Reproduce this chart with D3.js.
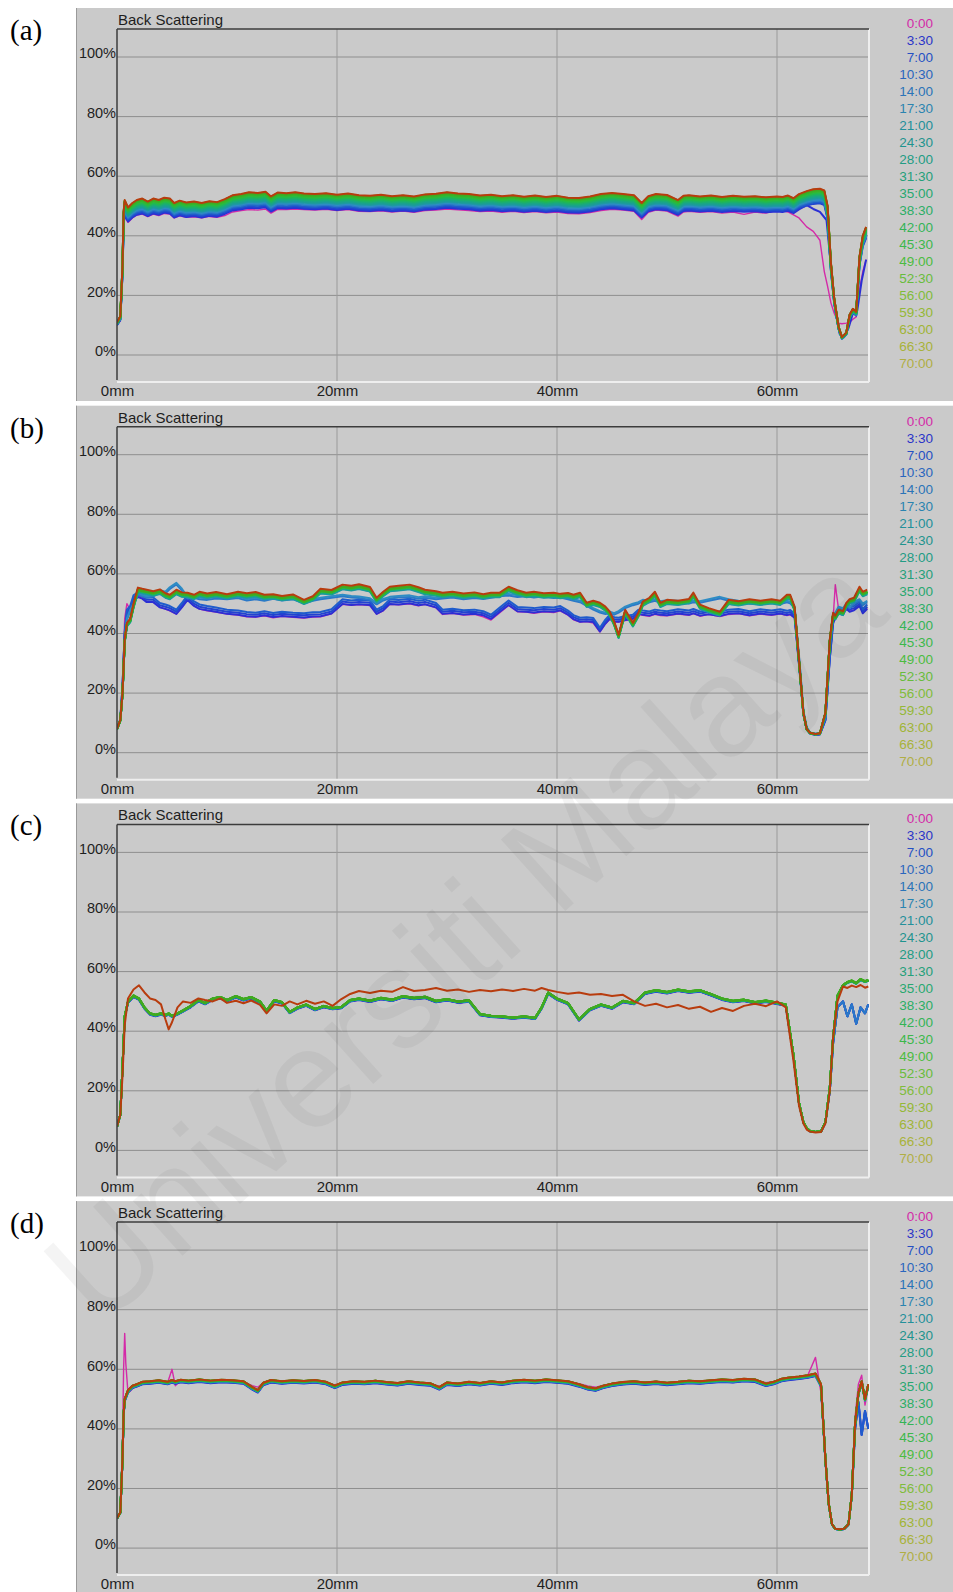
<!DOCTYPE html>
<html>
<head>
<meta charset="utf-8">
<script src="https://cdn.jsdelivr.net/npm/d3@7"></script>
<style>
  html, body { margin: 0; padding: 0; background: #ffffff; }
  svg { display: block; }
</style>
</head>
<body>
<svg id="chart" width="953" height="1592"></svg>
<script>
// ---- legend / series names -------------------------------------------
const times = ["0:00","3:30","7:00","10:30","14:00","17:30","21:00","24:30","28:00","31:30",
  "35:00","38:30","42:00","45:30","49:00","52:30","56:00","59:30","63:00","66:30","70:00"];
const legendColors = ["#d42aa8","#2b35c8","#2550c4","#2a66be","#2a74b8","#2a84b0","#23909a","#1f948e",
  "#229c84","#25a07a","#28a870","#2cae66","#34b456","#3cb84a","#4cbc40","#68bc3c","#80bc3a","#94b836",
  "#a0b436","#a8b23a","#b0ae44"];
const lineColors = ["#d42aa8","#2b2fd4","#2243d0","#1f5ccc","#2a78c8","#2e8cc4","#1f98a8","#1c9c98",
  "#1aa48a","#1aaa7c","#1cb06c","#1fb45e","#22b850","#26bc44","#2cbc3a","#32b832","#36b42c","#3ab028",
  "#3eac24","#42a820","#b83c0e"];
const panelLabels = ["(a)","(b)","(c)","(d)"];
const yTicks = [0, 20, 40, 60, 80, 100];
const xTicks = [0, 20, 40, 60];

// ---- panel (a): backscattering profiles (% vs height, mm) ----------------
const aX = [
  0, 0.3, 0.5, 0.6, 0.7, 1.0, 1.4, 1.8, 2.3, 2.8,
  3.3, 3.8, 4.3, 4.8, 5.2, 5.7, 6.3, 7, 7.7, 8.4,
  9.1, 9.8, 10.5, 11.3, 12, 12.8, 13.5, 14, 14.6, 15.4,
  16.2, 17, 18, 19, 20, 21, 22, 23, 24, 25,
  26, 27, 28, 29, 30, 31, 32, 33, 34, 35,
  36, 37, 38, 39, 40, 41, 42, 43, 44, 45,
  46, 47, 47.7, 48.3, 49, 50, 51, 51.5, 52, 53,
  54, 55, 56, 57, 58, 59, 60, 60.5, 61, 61.5,
  62, 62.7, 63.3, 63.9, 64.3, 64.6, 64.9, 65.2, 65.6, 65.9,
  66.3, 66.6, 66.9, 67.2, 67.5, 67.8, 68.1];
const aTop = [
  11, 13, 30, 48, 52, 49.5, 51, 52, 52.5, 51.5,
  52.5, 52, 52.8, 52.5, 51, 51.8, 51.2, 51.5, 51, 51.6,
  51.3, 52.3, 53.6, 54, 54.6, 54.4, 54.8, 53.2, 54.5, 54.3,
  54.6, 54.2, 54, 54.3, 53.8, 54.2, 53.6, 53.4, 53.8, 53.3,
  53.6, 53.2, 53.9, 54.1, 54.6, 54.2, 54, 53.5, 53.8, 53.3,
  53.6, 53.1, 53.5, 53, 53.4, 52.8, 52.7, 53.2, 54, 54.4,
  54, 53.6, 51, 53.3, 54, 53.7, 52, 53.4, 53.6, 53.2,
  53.5, 53, 53.4, 53.1, 53.3, 52.9, 53.2, 53, 53.5, 52.6,
  54, 55, 55.6, 55.8, 55.2, 50, 31, 19, 9.5, 6,
  7.5, 13.5, 15.5, 14.5, 33, 40, 43];
const aFirst = [
  10, 11.5, 27, 43, 46.5, 44.5, 46, 47, 47.3, 46.4,
  47.3, 46.8, 47.5, 47.3, 46, 46.7, 46.2, 46.4, 46, 46.5,
  46.2, 46.8, 48, 48.5, 48.8, 48.6, 49, 47.6, 48.9, 48.8,
  49, 48.8, 48.6, 48.9, 48.5, 48.8, 48.2, 48.1, 48.4, 48,
  48.3, 47.9, 48.5, 48.6, 49, 48.7, 48.5, 48.1, 48.3, 47.9,
  48.2, 47.8, 48.1, 47.7, 48, 47.5, 47.4, 47.8, 48.5, 48.9,
  48.6, 48.2, 45.5, 47.9, 48.6, 48.3, 46.6, 48, 48.2, 47.9,
  48.1, 47.6, 48, 47.2, 48, 47.6, 48.7, 48.5, 48, 47,
  46, 43, 41.5, 38.5, 28, 23, 17.5, 14, 10.7, 10.5,
  10.7, 11, 12, 12.8, 21.8, 28, 32];
const aBlueTailX = [62.7, 63.3, 63.9, 64.5, 64.9, 65.3, 65.7, 66.1, 66.5, 66.9, 67.3, 67.7, 68.1];
const aBlueTail = [50.3, 49, 48, 45.3, 30, 15, 7, 6, 9, 14, 15, 25, 32];
const aUse = ["first","top","top","top","top","top","top","top","top","top","top",
  "top","top","top","top","top","top","top","top","top","top"];
const aTail = [null,"blue",null,null,null,null,null,null,null,null,null,
  null,null,null,null,null,null,null,null,null,null];
const aGain = [1, 0.905, 0.912, 0.92, 0.928, 0.935, 0.942, 0.948, 0.954, 0.96, 0.965,
  0.97, 0.974, 0.978, 0.982, 0.985, 0.988, 0.991, 0.994, 0.997, 1.0];

// ---- panel (b) ---------------------------------------------------------
const bX = [
  0, 0.3, 0.5, 0.7, 0.9, 1.2, 1.5, 1.9, 2.3, 2.7,
  3.3, 3.9, 4.4, 4.8, 5.4, 5.9, 6.4, 7, 7.5, 8.2,
  9, 10, 11, 11.8, 12.6, 13.4, 14.2, 15, 16, 17,
  17.8, 18.5, 19.5, 20.5, 21.3, 22, 23, 23.6, 24.2, 24.8,
  25.6, 26.6, 27.4, 28, 29, 29.6, 30.5, 31.5, 32.5, 33.3,
  34, 34.8, 35.6, 36.4, 37.2, 37.9, 38.8, 39.7, 40.3, 41,
  41.5, 42.1, 42.7, 43.3, 43.9, 44.4, 44.8, 45.2, 45.6, 46.2,
  46.9, 47.4, 47.8, 48.4, 48.9, 49.4, 50, 51, 52, 52.4,
  53, 53.8, 54.8, 55.6, 56.5, 57.5, 58.5, 59.5, 60.3, 60.9,
  61.2, 61.6, 62.1, 62.4, 62.7, 63, 63.5, 63.9, 64.4, 64.8,
  65.1, 65.3, 65.6, 66, 66.3, 66.6, 67, 67.5, 67.8, 68.2];
const bHigh = [
  8, 11, 20, 38, 43.6, 45, 50, 55.4, 55, 54.7,
  54.2, 54.8, 53.5, 53, 54.7, 53.8, 53.7, 53, 54, 53.4,
  53.9, 53.2, 54, 53.5, 53.9, 53, 53.2, 52.6, 53.1, 51.3,
  52.5, 55, 54.6, 56.4, 56, 56.5, 55.6, 52, 54, 55.7,
  56, 56.4, 55.5, 54.7, 54.2, 53.7, 54, 53.4, 53.8, 53.2,
  53.7, 53.7, 55.7, 54.5, 53.7, 54, 53.5, 53.7, 53.3, 53.6,
  53, 53.7, 50.3, 51, 50.3, 49, 47.3, 44, 39.6, 48,
  43.6, 47, 50.7, 52, 54, 50.3, 51.3, 51, 51.6, 53.7,
  49.7, 48.5, 47.3, 51.3, 50.8, 51.5, 51, 51.5, 51, 53,
  53, 49, 26.8, 13.4, 8, 6.7, 6.3, 6.5, 13.4, 38,
  47, 46, 48, 47.5, 50.3, 51.5, 52, 55.7, 54, 54.7];
const bMid = [
  8, 11, 20, 38, 45, 48, 50, 53.7, 53, 52.5,
  53, 54.5, 54, 55.5, 57, 55, 52.3, 52.5, 52, 51.8,
  52.3, 52, 52.4, 51.6, 52, 51.5, 52.2, 51.6, 52, 50.7,
  51.5, 52, 52.5, 53, 52.6, 52.4, 51.8, 50.3, 51.6, 52.3,
  52.6, 52.8, 52.2, 52.5, 52, 52.3, 52.6, 52, 52.4, 52.1,
  52.5, 53, 53.3, 52.8, 53, 52.6, 53, 52.4, 52.6, 52,
  51.5, 51, 49.8, 48.5, 47.5, 47, 47.3, 46.8, 47.5, 49,
  50, 50.5, 51.3, 51, 51.5, 50.8, 51.2, 51, 50.6, 51,
  50.8, 51.5, 52.3, 51.5, 51, 50.6, 50.2, 50.8, 50.4, 51,
  50.6, 49, 28, 14, 8.5, 6.8, 6.4, 6.6, 12, 36,
  46, 47, 49, 48.5, 50, 49, 50.5, 51.5, 50, 51];
const bLow = [
  8, 11, 22, 40, 47.3, 48.5, 52, 53, 52.5, 51.3,
  51.3, 49.5, 49, 48.5, 47.3, 49.5, 52, 50, 49, 48.5,
  48, 47.3, 47, 46.5, 46.3, 46.8, 46.2, 46.6, 46.3, 46.1,
  46.4, 46.5, 47.4, 50.7, 50.3, 50.6, 50.3, 47.3, 48.5, 50.7,
  50.5, 50.9, 50.2, 50.6, 49.5, 47.3, 47.6, 47.1, 47.3, 46.8,
  45.6, 48, 50.3, 48.2, 48, 47.8, 48.2, 48, 48.5, 47,
  45.5, 44.6, 44.8, 44.5, 41.3, 44, 45.6, 44.8, 44.6, 45.2,
  45.6, 47.3, 47, 46.7, 47.3, 47, 46.8, 47.4, 47, 47.5,
  46.7, 47.2, 46.6, 47.3, 47.5, 46.8, 47.4, 47, 47.4, 46.9,
  47.2, 46, 26, 13, 8, 6.5, 6, 6.2, 11, 32,
  44, 46, 47.5, 47, 49, 48, 48.5, 50, 47.5, 49];
const bFirst = [
  8, 11, 22, 45, 50, 48, 51, 52.5, 52, 50.8,
  50.5, 48.8, 48.2, 47.6, 46.5, 48.8, 51.3, 49.3, 48.2, 47.6,
  47.2, 46.5, 46.2, 45.6, 45.5, 45.9, 45.3, 45.8, 45.4, 45.2,
  45.5, 45.6, 46.6, 49.8, 49.5, 49.7, 49.4, 46.5, 47.6, 49.8,
  49.6, 50, 49.3, 49.8, 48.6, 46.4, 46.8, 46.2, 46.4, 45.6,
  44.5, 47, 49.4, 47.3, 47.2, 46.8, 47.3, 47, 47.6, 46.2,
  44.6, 43.8, 44, 43.5, 40.5, 43.2, 44.8, 43.7, 43.8, 44.3,
  44.8, 46.4, 46.1, 45.8, 46.4, 46, 45.9, 46.5, 46.1, 46.7,
  45.8, 46.4, 45.7, 46.4, 46.7, 45.9, 46.5, 46.1, 46.6, 46,
  46.3, 45.2, 25, 12.5, 8, 6.5, 6, 6.2, 11, 34,
  45, 56.4, 48, 46.5, 48.5, 47.5, 48, 49.5, 47, 48.5];
const bUse = ["first","low","low","low","mid","mid","high","high","high","high","high",
  "high","high","high","high","high","high","high","high","high","high"];
const bGain = [1, 0.985, 1.0, 1.015, 0.99, 1.0, 0.972, 0.975, 0.978, 0.98, 0.982,
  0.983, 0.984, 0.985, 0.986, 0.987, 0.988, 0.988, 0.989, 0.99, 1.0];

// ---- panel (c) ---------------------------------------------------------
const cX = [
  0, 0.3, 0.5, 0.7, 1.0, 1.5, 2.0, 2.5, 3.0, 3.5,
  4.0, 4.4, 4.7, 5.0, 5.5, 6, 6.7, 7.4, 8, 8.7,
  9.4, 10, 10.8, 11.5, 12.2, 13, 13.6, 14.3, 15, 15.7,
  16.4, 17.2, 18, 18.8, 19.6, 20.4, 21.2, 22, 23, 24,
  25, 26, 27, 28, 29, 30, 31, 32, 33, 34,
  35, 36, 37, 38, 38.6, 39.2, 40, 41, 42, 43,
  44, 45, 46, 47, 48, 49, 50, 51, 52, 53,
  54, 55, 56, 57, 58, 59, 60, 60.8, 61.5, 62,
  62.4, 62.7, 63, 63.5, 64, 64.4, 64.8, 65.1, 65.5, 66,
  66.4, 66.8, 67.2, 67.6, 68, 68.3];
const cRed = [
  8, 12, 25, 42, 51, 54, 55.4, 53, 51, 50.5,
  49, 44, 40.6, 43, 48, 50, 49.5, 51, 50.5, 50,
  51, 49.5, 50.2, 49.4, 50.3, 48.8, 46, 49, 48.5, 50,
  49, 50.2, 49.2, 50, 48.5, 50.8, 52.5, 53.5, 52.8, 53.6,
  53.2, 54.8, 53.5, 53.8, 54.5, 53.6, 54, 53.2, 53.8, 53.4,
  54, 53.5, 54.2, 53.6, 54.5, 53.8, 53.2, 52.6, 53, 52.2,
  52.5, 51.8, 52.2, 50, 48.5, 49.2, 48, 48.8, 47.5, 48.2,
  46.5, 47.8, 46.8, 48.5, 49.2, 48.4, 50, 48, 30, 15,
  9, 7, 6.3, 6, 6.2, 9, 20, 38, 50, 55,
  54.5, 55.3, 54.8, 55.5, 54.6, 55];
const cGreen = [
  8, 12, 28, 45, 50, 52, 51, 48, 46, 45.5,
  46, 45.5, 46, 45.2, 46, 47, 48.5, 50.5, 49.5, 51,
  51.5, 50.5, 51.8, 50.8, 51.5, 50, 47, 50.5, 49.8, 46.5,
  48, 49, 47.5, 48.5, 47.8, 48.2, 50.5, 51, 50.3, 51.2,
  50.6, 51.8, 51.2, 51.6, 50.2, 50.8, 50, 50.4, 45.8, 45.2,
  45, 44.6, 45, 44.5, 48, 53, 51, 49.5, 44, 47.5,
  49, 48, 50.2, 49.5, 53, 53.8, 53.2, 54, 53.4, 53.8,
  52.5, 51, 50.2, 50.6, 49.8, 50.3, 49.6, 49, 32, 16,
  9.5, 7.5, 6.5, 6.2, 6.4, 9.5, 21, 38, 52, 55.5,
  56.5, 57, 56.2, 57.5, 56.8, 57.2];
const cBlueTailX = [64.8, 65.1, 65.5, 66, 66.4, 66.8, 67.2, 67.6, 68, 68.3];
const cBlueTail = [20, 36, 48, 50, 45, 49, 42.5, 48, 46, 49];
const cUse = ["green","green","green","green","green","green","green","green","green","green","green",
  "green","green","green","green","green","green","green","green","green","red"];
const cTail = ["blue","blue","blue","blue","blue",null,null,null,null,null,null,
  null,null,null,null,null,null,null,null,null,null];
const cGain = [0.99, 0.99, 0.992, 0.993, 0.994, 0.995, 0.995, 0.996, 0.996, 0.997, 0.997,
  0.998, 0.998, 0.998, 0.999, 0.999, 0.999, 1.0, 1.0, 1.0, 1.0];

// ---- panel (d) ---------------------------------------------------------
const dX = [
  0, 0.3, 0.5, 0.6, 0.7, 0.8, 1.0, 1.4, 1.8, 2.3,
  3, 3.8, 4.6, 5.0, 5.3, 5.8, 6.5, 7.5, 8.5, 9.5,
  10.5, 11.5, 12.3, 12.8, 13.3, 14, 15, 16, 17, 18,
  19, 19.8, 20.5, 21.5, 22.5, 23.5, 24.5, 25.5, 26.5, 27.5,
  28.5, 29.3, 30, 31, 32, 33, 34, 35, 36, 37,
  38, 39, 40, 41, 42, 42.8, 43.5, 44.2, 45, 46,
  47, 48, 49, 50, 51, 52, 53, 54, 55, 56,
  57, 58, 59, 59.7, 60.4, 61, 62, 62.8, 63.5, 64,
  64.4, 64.7, 65, 65.3, 65.7, 66.1, 66.5, 66.8, 67.1, 67.4,
  67.7, 68, 68.3];
const dBase = [
  10, 12, 30, 45, 50, 51, 53, 54.5, 55, 55.8,
  56, 56.3, 55.8, 56.4, 56, 56.5, 56.2, 56.6, 56.2, 56.5,
  56.3, 56, 54, 53, 55.5, 56.4, 56, 56.3, 56.1, 56.4,
  55.8, 54.5, 55.6, 56, 55.8, 56.2, 55.7, 55.4, 56, 55.6,
  55.3, 54, 55.6, 55.2, 55.8, 55.4, 56, 55.6, 56.2, 56.5,
  56.2, 56.6, 56.3, 56, 55, 54, 53.6, 54.5, 55.2, 55.7,
  56, 55.6, 55.9, 55.5, 55.8, 56.2, 56, 56.3, 56.6, 56.4,
  56.8, 56.6, 55.2, 55.8, 56.8, 57.2, 57.6, 58, 58.6, 55,
  30, 15, 8, 6.5, 6.3, 6.5, 8, 18, 42, 52,
  56, 50, 55];
const dFirst = [
  10, 12, 35, 60, 72, 62, 52, 53.5, 54.5, 55.5,
  56, 56.2, 55.5, 60, 54.5, 56.3, 56, 56.5, 56.1, 56.4,
  56.2, 55.9, 54.5, 54, 55.6, 56.3, 55.9, 56.2, 56, 56.3,
  55.7, 54.8, 55.5, 55.9, 55.7, 56.1, 55.6, 55.3, 55.9, 55.5,
  55.2, 54.3, 55.5, 55.1, 55.7, 55.3, 55.9, 55.5, 56.1, 56.4,
  56.1, 56.5, 56.2, 55.9, 55.2, 54.4, 54, 54.6, 55.1, 55.6,
  55.9, 55.5, 55.8, 55.4, 55.7, 56.1, 55.9, 56.2, 56.5, 56.3,
  56.7, 56.5, 55.5, 55.9, 56.7, 57, 57.4, 58, 64, 52,
  28, 14, 8, 6.6, 6.4, 6.6, 8.5, 19, 44, 55,
  58, 48, 54];
const dBlueTailX = [67.1, 67.4, 67.7, 68, 68.3];
const dBlueTail = [40, 49, 38, 46, 40];
const dUse = ["first","base","base","base","base","base","base","base","base","base","base",
  "base","base","base","base","base","base","base","base","base","base"];
const dTail = [null,"blue","blue","blue",null,null,null,null,null,null,null,
  null,null,null,null,null,null,null,null,null,null];
const dGain = [1, 0.985, 0.987, 0.989, 0.99, 0.991, 0.992, 0.993, 0.994, 0.995, 0.995,
  0.996, 0.996, 0.997, 0.997, 0.998, 0.998, 0.999, 0.999, 1.0, 1.0];

// ---- assemble panels --------------------------------------------------
const panels = [
  { xs: aX, profiles: { top: aTop, first: aFirst }, use: aUse, gain: aGain, tail: aTail,
    tails: { blue: { x: aBlueTailX, y: aBlueTail } } },
  { xs: bX, profiles: { high: bHigh, mid: bMid, low: bLow, first: bFirst }, use: bUse, gain: bGain, tail: null, tails: {} },
  { xs: cX, profiles: { red: cRed, green: cGreen }, use: cUse, gain: cGain, tail: cTail,
    tails: { blue: { x: cBlueTailX, y: cBlueTail } } },
  { xs: dX, profiles: { base: dBase, first: dFirst }, use: dUse, gain: dGain, tail: dTail,
    tails: { blue: { x: dBlueTailX, y: dBlueTail } } }
];

// profile values scaled by the series gain; a tail (absolute values) replaces the top end
function seriesPoints(p, k) {
  const prof = p.profiles[p.use[k]];
  const g = p.gain[k];
  const n = Math.min(prof.length, p.xs.length);
  let pts = [];
  for (let j = 0; j < n; j++) pts.push([p.xs[j], prof[j] * g]);
  const tn = p.tail ? p.tail[k] : null;
  if (tn) {
    const t = p.tails[tn];
    pts = pts.filter(d => d[0] < t.x[0]).concat(t.x.map((xv, j) => [xv, t.y[j]]));
  }
  return pts;
}

// ---- drawing ---------------------------------------------------------
const svg = d3.select("#chart");
const panelStep = 397.7, panelTop0 = 8, panelH = 393;
const plotLeft = 117, plotRight = 869, frameTop = 21, frameBottom = 374;
const sans = "'Liberation Sans', Arial, Helvetica, sans-serif";

const x = d3.scaleLinear().domain([0, 68.5]).range([plotLeft, 870.5]);
const y = d3.scaleLinear().domain([0, 100]).range([347, 49]);

panels.forEach((p, i) => {
  const T = panelTop0 + i * panelStep;
  const g = svg.append("g").attr("transform", `translate(0,${T})`);

  g.append("rect").attr("x", 76).attr("y", 0).attr("width", 877).attr("height", panelH)
    .attr("fill", "#cacaca");
  g.append("line").attr("x1", 76.5).attr("x2", 76.5).attr("y1", 0).attr("y2", panelH)
    .attr("stroke", "#9a9a9a").attr("stroke-width", 1);

  // grid
  g.append("g").selectAll("line").data(yTicks).join("line")
    .attr("x1", plotLeft).attr("x2", plotRight)
    .attr("y1", d => y(d)).attr("y2", d => y(d))
    .attr("stroke", "#8e8e8e").attr("stroke-width", 1);
  g.append("g").selectAll("line").data(xTicks.filter(d => d > 0)).join("line")
    .attr("x1", d => x(d)).attr("x2", d => x(d))
    .attr("y1", frameTop).attr("y2", frameBottom)
    .attr("stroke", "#9a9a9a").attr("stroke-width", 1);

  // frame: light bottom/right
  g.append("line").attr("x1", plotLeft).attr("x2", plotRight).attr("y1", frameBottom).attr("y2", frameBottom)
    .attr("stroke", "#eeeeee").attr("stroke-width", 2);
  g.append("line").attr("x1", plotRight).attr("x2", plotRight).attr("y1", frameTop).attr("y2", frameBottom)
    .attr("stroke", "#eeeeee").attr("stroke-width", 2);

  // curves
  const clipId = "clip" + i;
  g.append("clipPath").attr("id", clipId).append("rect")
    .attr("x", plotLeft).attr("y", frameTop).attr("width", plotRight - plotLeft).attr("height", frameBottom - frameTop);
  const line = d3.line().x(d => x(d[0])).y(d => y(d[1]));
  const curves = g.append("g").attr("clip-path", `url(#${clipId})`);
  times.forEach((t, k) => {
    curves.append("path")
      .attr("d", line(seriesPoints(p, k)))
      .attr("fill", "none")
      .attr("stroke", lineColors[k])
      .attr("stroke-width", k === 0 ? 1.4 : 2)
      .attr("stroke-linejoin", "round");
  });

  // frame: dark top/left
  g.append("line").attr("x1", plotLeft).attr("x2", plotRight).attr("y1", frameTop).attr("y2", frameTop)
    .attr("stroke", "#3c3c3c").attr("stroke-width", 1.5);
  g.append("line").attr("x1", plotLeft).attr("x2", plotLeft).attr("y1", frameTop).attr("y2", frameBottom - 2)
    .attr("stroke", "#3c3c3c").attr("stroke-width", 1.5);

  // axes
  const yAxis = g.append("g").attr("transform", `translate(${plotLeft},0)`)
    .call(d3.axisLeft(y).tickValues(yTicks).tickFormat(d => d + "%").tickSize(0).tickPadding(1));
  yAxis.select(".domain").remove();
  yAxis.selectAll("text").attr("dy", "0.05em")
    .attr("font-family", sans).attr("font-size", 14.5).attr("fill", "#1e1e1e");

  const xAxis = g.append("g").attr("transform", `translate(0,${frameBottom})`)
    .call(d3.axisBottom(x).tickValues(xTicks).tickFormat(d => d + "mm").tickSize(0).tickPadding(3.5));
  xAxis.select(".domain").remove();
  xAxis.selectAll("text")
    .attr("font-family", sans).attr("font-size", 15).attr("fill", "#1e1e1e");

  g.append("text").attr("x", 118).attr("y", 17).text("Back Scattering")
    .attr("font-family", sans).attr("font-size", 15).attr("fill", "#1e1e1e");

  // legend
  g.append("g").selectAll("text").data(times).join("text")
    .attr("x", 933).attr("y", (d, k) => 20 + k * 17)
    .attr("text-anchor", "end")
    .attr("font-family", sans).attr("font-size", 13.5)
    .attr("fill", (d, k) => legendColors[k])
    .text(d => d);

  // panel label
  svg.append("text").attr("x", 10).attr("y", T + 32).text(panelLabels[i])
    .attr("font-family", "'Liberation Serif', 'Times New Roman', serif").attr("font-size", 29).attr("fill", "#000");
});

// faint diagonal watermark, kept inside the page
svg.append("text")
  .attr("transform", "translate(100,1330) rotate(-42)")
  .attr("font-family", sans).attr("font-size", 140)
  .attr("fill", "#000").attr("fill-opacity", 0.045)
  .text("Universiti Malaya");
</script>
</body>
</html>
